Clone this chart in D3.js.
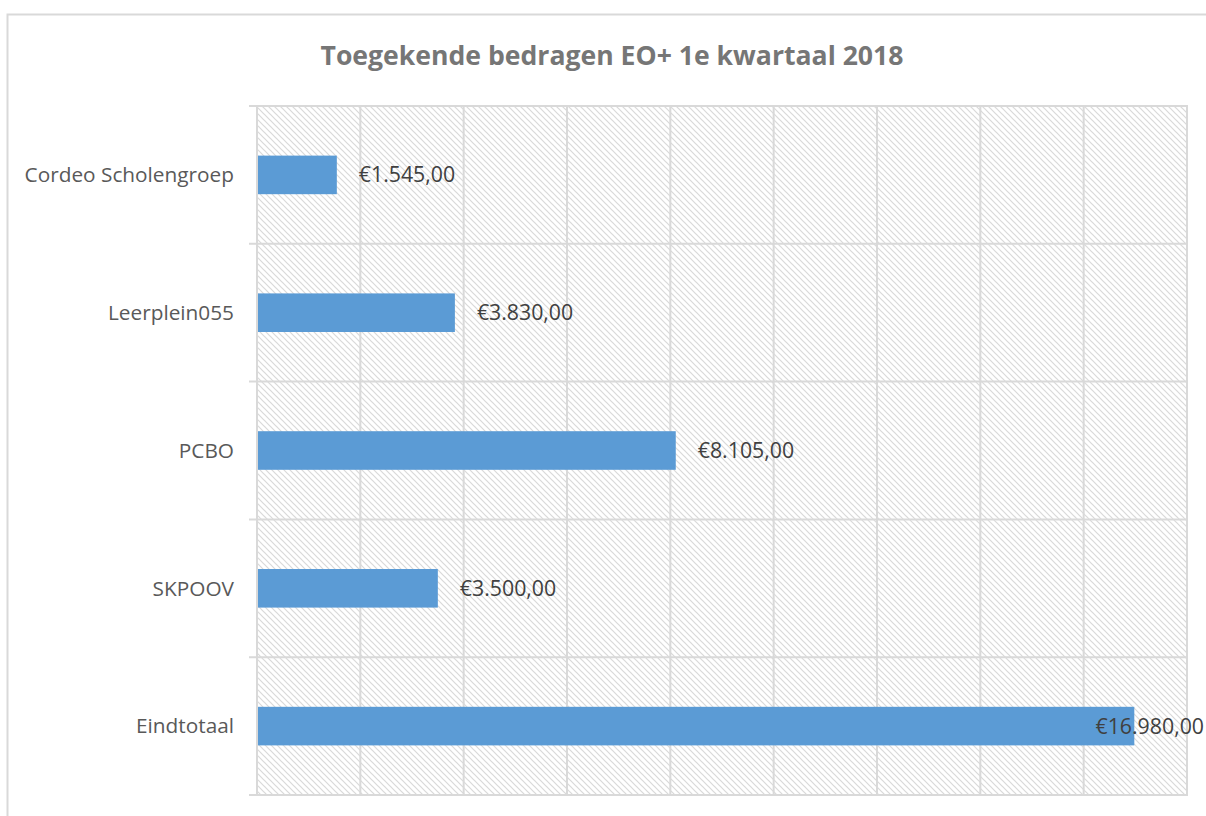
<!DOCTYPE html>
<html><head><meta charset="utf-8">
<script src="https://cdn.jsdelivr.net/npm/d3@7/dist/d3.min.js"></script>
<style>body{margin:0;background:#fff;} svg{display:block;font-family:"Open Sans",sans-serif;}</style>
</head><body>
<svg id="c" width="1206" height="816"></svg>
<script>
const categories = ["Cordeo Scholengroep","Leerplein055","PCBO","SKPOOV","Eindtotaal"];
const values = [1545, 3830, 8105, 3500, 16980];
const valueLabels = ["€1.545,00","€3.830,00","€8.105,00","€3.500,00","€16.980,00"];
const title = "Toegekende bedragen EO+ 1e kwartaal 2018";
const xTicks = [0,2000,4000,6000,8000,10000,12000,14000,16000,18000];

const svg = d3.select("#c");
const W = 1206;
const m = {left:257, right:1187, top:106, bottom:795};

svg.append("rect").attr("x",7.5).attr("y",14.5).attr("width",1220).attr("height",820)
  .attr("fill","#fff").attr("stroke","#d9d9d9").attr("stroke-width",2);

const defs = svg.append("defs");
const pat = defs.append("pattern").attr("id","hatch").attr("patternUnits","userSpaceOnUse")
  .attr("width",6).attr("height",6);
pat.append("rect").attr("width",6).attr("height",6).attr("fill","#fff");
pat.append("path").attr("d","M-1,-1 L7,7 M-7,-1 L1,7 M5,-1 L13,7").attr("stroke","#d9d9d9").attr("stroke-width",1.2);

const x = d3.scaleLinear().domain([0,18000]).range([m.left,m.right]);
const y = d3.scaleBand().domain(categories).range([m.top,m.bottom]).paddingInner(0.72).paddingOuter(0.36);

svg.append("rect").attr("x",m.left).attr("y",m.top).attr("width",m.right-m.left).attr("height",m.bottom-m.top)
  .attr("fill","url(#hatch)");

svg.append("g").selectAll("line").data(xTicks).join("line")
  .attr("x1",d=>x(d)).attr("x2",d=>x(d)).attr("y1",m.top).attr("y2",m.bottom)
  .attr("stroke","#d9d9d9").attr("stroke-width",2);

const step = (m.bottom-m.top)/categories.length;
const bounds = d3.range(categories.length+1).map(i=>m.top+i*step);
svg.append("g").selectAll("line").data(bounds).join("line")
  .attr("x1",m.left-8).attr("x2",m.right+1).attr("y1",d=>d).attr("y2",d=>d)
  .attr("stroke","#d9d9d9").attr("stroke-width",2);

svg.append("g").selectAll("rect").data(values).join("rect")
  .attr("x",x(0)+1).attr("y",(d,i)=>y(categories[i]))
  .attr("width",d=>x(d)-x(0)-1).attr("height",y.bandwidth())
  .attr("fill","#5b9bd5");

svg.append("g").selectAll("text").data(values).join("text")
  .each(function(d,i){
    const t = d3.select(this);
    const pos = x(d)+22;
    if (pos + 112 > W) {
      t.attr("x", W-2).attr("text-anchor","end");
    } else {
      t.attr("x", pos).attr("text-anchor","start");
    }
  })
  .attr("y",(d,i)=>y(categories[i])+y.bandwidth()/2)
  .attr("dy","0.35em").attr("font-size",21.3).attr("fill","#404040")
  .text((d,i)=>valueLabels[i]);

svg.append("g").selectAll("text").data(categories).join("text")
  .attr("x",234).attr("y",d=>y(d)+y.bandwidth()/2).attr("dy","0.35em")
  .attr("text-anchor","end").attr("font-size",20.8).attr("fill","#595959").text(d=>d);

svg.append("text").attr("x",612).attr("y",65).attr("text-anchor","middle")
  .attr("font-size",26.6).attr("font-weight","bold").attr("fill","#767676").text(title);
</script>
</body></html>
